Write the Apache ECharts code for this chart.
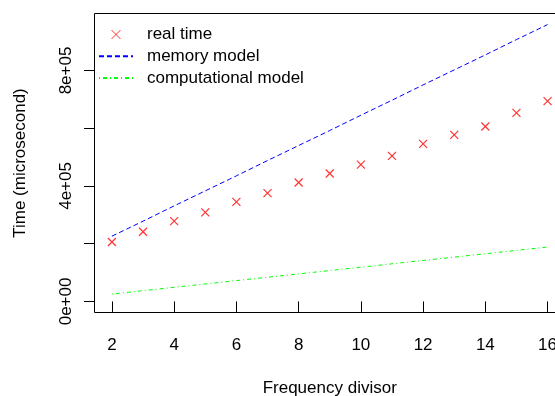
<!DOCTYPE html>
<html>
<head>
<meta charset="utf-8">
<script src="https://cdn.jsdelivr.net/npm/echarts@6/dist/echarts.min.js"></script>
<style>html,body{margin:0;padding:0;background:#fff;}#c{width:555px;height:396px;}</style>
</head>
<body>
<div id="c"></div>
<script>
const divisors = [2,3,4,5,6,7,8,9,10,11,12,13,14,15,16];
const realTime = [205700,241400,278000,308300,345000,375000,412000,443000,474000,504000,546000,577000,606000,653000,694000];
const memoryModel = [226000,278000,331000,383000,435000,488000,540000,592000,645000,697000,750000,802000,854000,907000,959000];
const computationalModel = [25600,37200,48900,60500,72100,83700,95400,107000,118600,130300,141900,153500,165100,176800,188400];
const xTicks = [2,4,6,8,10,12,14,16];
const yTicks = [0,200000,400000,600000,800000];
const yTickLabels = [0,400000,800000];
const yLabelText = {0:'0e+00',400000:'4e+05',800000:'8e+05'};
const seriesNames = ['real time','memory model','computational model'];

const FONT = 'Liberation Sans';
const FS = 17;
const pair = arr => divisors.map((d,i)=>[d,arr[i]]);

const chart = echarts.init(document.getElementById('c'), null, {renderer:'canvas'});
chart.setOption({
  animation:false,
  backgroundColor:'#fff',
  textStyle:{fontFamily:FONT},
  grid:{left:94.5, top:13.5, width:470.5, height:299, show:true, borderColor:'#000', borderWidth:1,
        backgroundColor:'transparent', containLabel:false, outerBoundsMode:'none'},
  legend:{
    orient:'vertical', left:93, top:21, padding:5, itemGap:4.7,
    itemWidth:34, itemHeight:9,
    textStyle:{fontFamily:FONT, fontSize:FS, color:'#000', padding:[0,0,0,9]},
    data:[
      {name:seriesNames[0], itemStyle:{borderWidth:1}},
      {name:seriesNames[1], itemStyle:{opacity:0}},
      {name:seriesNames[2], itemStyle:{opacity:0}}
    ]
  },
  xAxis:{
    type:'value', min:1.44, max:16.56,
    name:'Frequency divisor', nameLocation:'middle', nameGap:67,
    nameTextStyle:{fontFamily:FONT, fontSize:FS, color:'#000'},
    axisLine:{show:false},
    splitLine:{show:false},
    axisTick:{show:true, inside:false, length:10.5, lineStyle:{color:'#000', width:1}, customValues:xTicks},
    axisLabel:{fontFamily:FONT, fontSize:FS, color:'#000', margin:24, customValues:xTicks, hideOverlap:false}
  },
  yAxis:{
    type:'value', min:-38360, max:997360,
    name:'Time (microsecond)', nameLocation:'middle', nameGap:66, nameRotate:90,
    nameTextStyle:{fontFamily:FONT, fontSize:FS, color:'#000'},
    axisLine:{show:false},
    splitLine:{show:false},
    axisTick:{show:true, length:10.5, lineStyle:{color:'#000', width:1}, customValues:yTicks},
    axisLabel:{fontFamily:FONT, fontSize:FS, color:'#000', rotate:90, margin:20, customValues:yTickLabels,
      formatter:v=>yLabelText[v] !== undefined ? yLabelText[v] : ''}
  },
  series:[
    {name:seriesNames[0], type:'scatter', data:pair(realTime),
     symbol:'path://M0,0L10,10M10,0L0,10', symbolSize:8,
     itemStyle:{color:'rgba(0,0,0,0)', borderColor:'#ff0000', borderWidth:1.2}},
    {name:seriesNames[1], type:'line', data:pair(memoryModel), showSymbol:false,
     itemStyle:{color:'rgba(0,0,0,0)', borderColor:'rgba(0,0,0,0)'},
     lineStyle:{color:'#0000ff', width:1, type:[5,3]}},
    {name:seriesNames[2], type:'line', data:pair(computationalModel), showSymbol:false,
     itemStyle:{color:'rgba(0,0,0,0)', borderColor:'rgba(0,0,0,0)'},
     lineStyle:{color:'#00ff00', width:1, type:[1,3,4,3]}}
  ]
});
</script>
</body>
</html>
